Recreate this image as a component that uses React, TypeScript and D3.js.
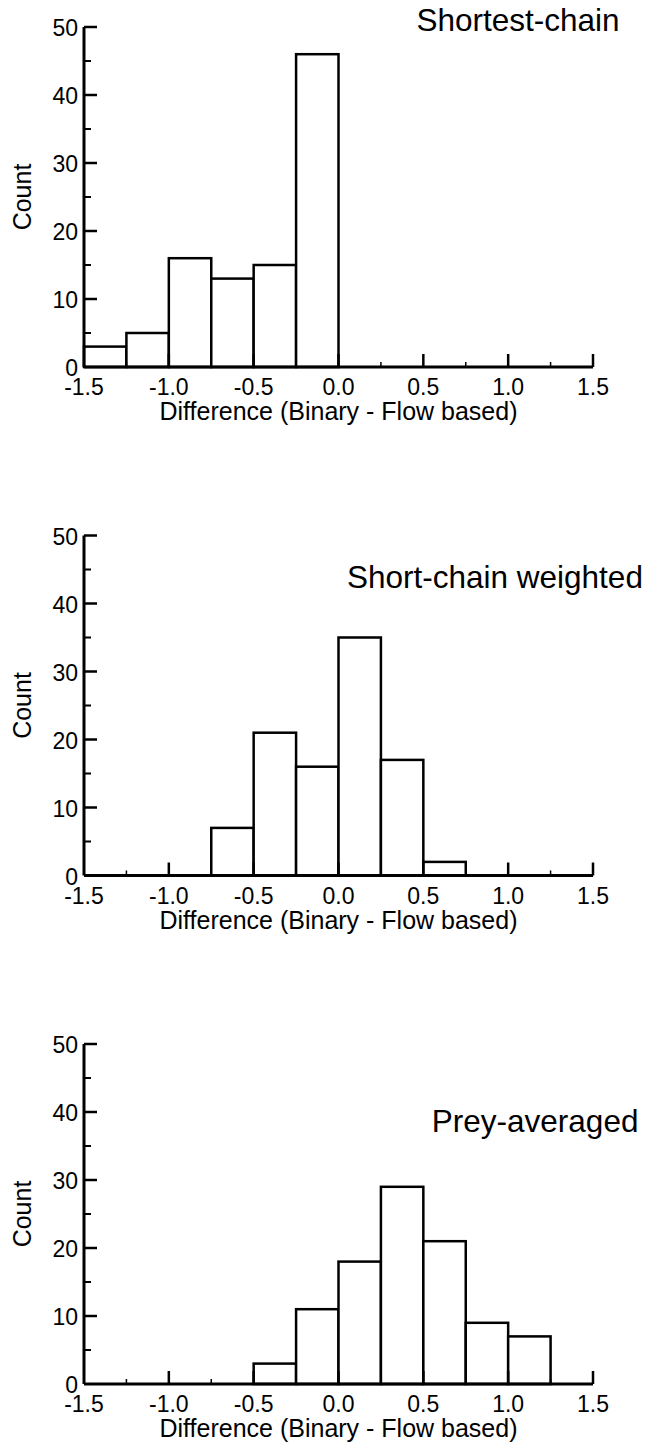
import React, { useEffect, useRef } from 'react';
import * as d3 from 'd3';

// Histogram bins (width 0.25) from -1.5 to 1.5
const binEdges = [-1.5, -1.25, -1.0, -0.75, -0.5, -0.25, 0.0, 0.25, 0.5, 0.75, 1.0, 1.25, 1.5];

const shortestChainCounts = [3, 5, 16, 13, 15, 46, 0, 0, 0, 0, 0, 0];
const shortChainWeightedCounts = [0, 0, 0, 7, 21, 16, 35, 17, 2, 0, 0, 0];
const preyAveragedCounts = [0, 0, 0, 0, 3, 11, 18, 29, 21, 9, 7, 0];

const panelTitles = ['Shortest-chain', 'Short-chain weighted', 'Prey-averaged'];
const panelCounts = [shortestChainCounts, shortChainWeightedCounts, preyAveragedCounts];

const xTickValues = [-1.5, -1.0, -0.5, 0.0, 0.5, 1.0, 1.5];
const xMinorTickValues = [-1.25, -0.75, -0.25, 0.25, 0.75, 1.25];
const yTickValues = [0, 10, 20, 30, 40, 50];
const yMinorTickValues = [5, 15, 25, 35, 45];

const xLabel = 'Difference (Binary - Flow based)';
const yLabel = 'Count';

// title anchor in data units (left x, baseline y) for each panel
const titleAnchors = [
    { x: 0.46, y: 49.4 },
    { x: 0.05, y: 42.3 },
    { x: 0.55, y: 37.0 },
];

const WIDTH = 650;
const HEIGHT = 1449;
const FONT = '"Liberation Sans", Arial, sans-serif';

// plain hyphen for negatives, one decimal
const fmtX = (v: number) => v.toFixed(1);

export default function App() {
    const svgRef = useRef<SVGSVGElement | null>(null);

    useEffect(() => {
        if (!svgRef.current) return;
        const svg = d3.select(svgRef.current);
        svg.selectAll('*').remove();

        const left = 84;
        const right = 593;
        const plotH = 340;
        const panelStep = 508.5;
        const firstTop = 27;

        const x = d3.scaleLinear().domain([-1.5, 1.5]).range([left, right]);

        panelCounts.forEach((counts, i) => {
            const top = firstTop + i * panelStep;
            const y = d3.scaleLinear().domain([0, 50]).range([top + plotH, top]);
            const g = svg.append('g');

            // bars
            const bins = counts.map((c, j) => ({ x0: binEdges[j], x1: binEdges[j + 1], count: c }))
                .filter(d => d.count > 0);
            g.selectAll('rect.bar')
                .data(bins)
                .enter()
                .append('rect')
                .attr('class', 'bar')
                .attr('x', d => x(d.x0))
                .attr('y', d => y(d.count))
                .attr('width', d => x(d.x1) - x(d.x0))
                .attr('height', d => y(0) - y(d.count))
                .attr('fill', '#fff')
                .attr('stroke', '#000')
                .attr('stroke-width', 2.5);

            // x axis
            const xAxis = g.append('g').attr('transform', `translate(0,${y(0)})`);
            xAxis.append('line')
                .attr('x1', x(-1.5)).attr('x2', x(1.5))
                .attr('stroke', '#000').attr('stroke-width', 3);
            xAxis.selectAll('line.major')
                .data(xTickValues.filter(v => v !== -1.5))
                .enter().append('line')
                .attr('class', 'major')
                .attr('x1', d => x(d)).attr('x2', d => x(d))
                .attr('y1', 0).attr('y2', -13)
                .attr('stroke', '#000').attr('stroke-width', 2.5);
            xAxis.selectAll('line.minor')
                .data(xMinorTickValues)
                .enter().append('line')
                .attr('class', 'minor')
                .attr('x1', d => x(d)).attr('x2', d => x(d))
                .attr('y1', 0).attr('y2', -5)
                .attr('stroke', '#000').attr('stroke-width', 1.5);
            xAxis.selectAll('text.tick')
                .data(xTickValues)
                .enter().append('text')
                .attr('class', 'tick')
                .attr('x', d => x(d))
                .attr('y', 28)
                .attr('text-anchor', 'middle')
                .style('font-family', FONT)
                .style('font-size', '23px')
                .text(d => fmtX(d));
            xAxis.append('text')
                .attr('x', x(0))
                .attr('y', 53)
                .attr('text-anchor', 'middle')
                .style('font-family', FONT)
                .style('font-size', '25px')
                .text(xLabel);

            // y axis
            const yAxis = g.append('g').attr('transform', `translate(${left},0)`);
            yAxis.append('line')
                .attr('y1', y(0)).attr('y2', y(50))
                .attr('stroke', '#000').attr('stroke-width', 3);
            yAxis.selectAll('line.major')
                .data(yTickValues.filter(v => v !== 0))
                .enter().append('line')
                .attr('class', 'major')
                .attr('x1', 0).attr('x2', 13)
                .attr('y1', d => y(d)).attr('y2', d => y(d))
                .attr('stroke', '#000').attr('stroke-width', 2.5);
            yAxis.selectAll('line.minor')
                .data(yMinorTickValues)
                .enter().append('line')
                .attr('class', 'minor')
                .attr('x1', 0).attr('x2', 7)
                .attr('y1', d => y(d)).attr('y2', d => y(d))
                .attr('stroke', '#000').attr('stroke-width', 2);
            yAxis.selectAll('text')
                .data(yTickValues)
                .enter().append('text')
                .attr('x', -6)
                .attr('y', d => y(d))
                .attr('dy', '0.4em')
                .attr('text-anchor', 'end')
                .style('font-family', FONT)
                .style('font-size', '23px')
                .text(d => d);
            g.append('text')
                .attr('transform', `translate(31,${(y(0) + y(50)) / 2}) rotate(-90)`)
                .attr('text-anchor', 'middle')
                .style('font-family', FONT)
                .style('font-size', '25px')
                .text(yLabel);

            // panel title
            g.append('text')
                .attr('x', x(titleAnchors[i].x))
                .attr('y', y(titleAnchors[i].y))
                .style('font-family', FONT)
                .style('font-size', '31.5px')
                .text(panelTitles[i]);
        });
    }, []);

    return (
        <svg
            ref={svgRef}
            width={WIDTH}
            height={HEIGHT}
            style={{ position: 'absolute', left: 0, top: 0, background: '#fff' }}
        />
    );
}
